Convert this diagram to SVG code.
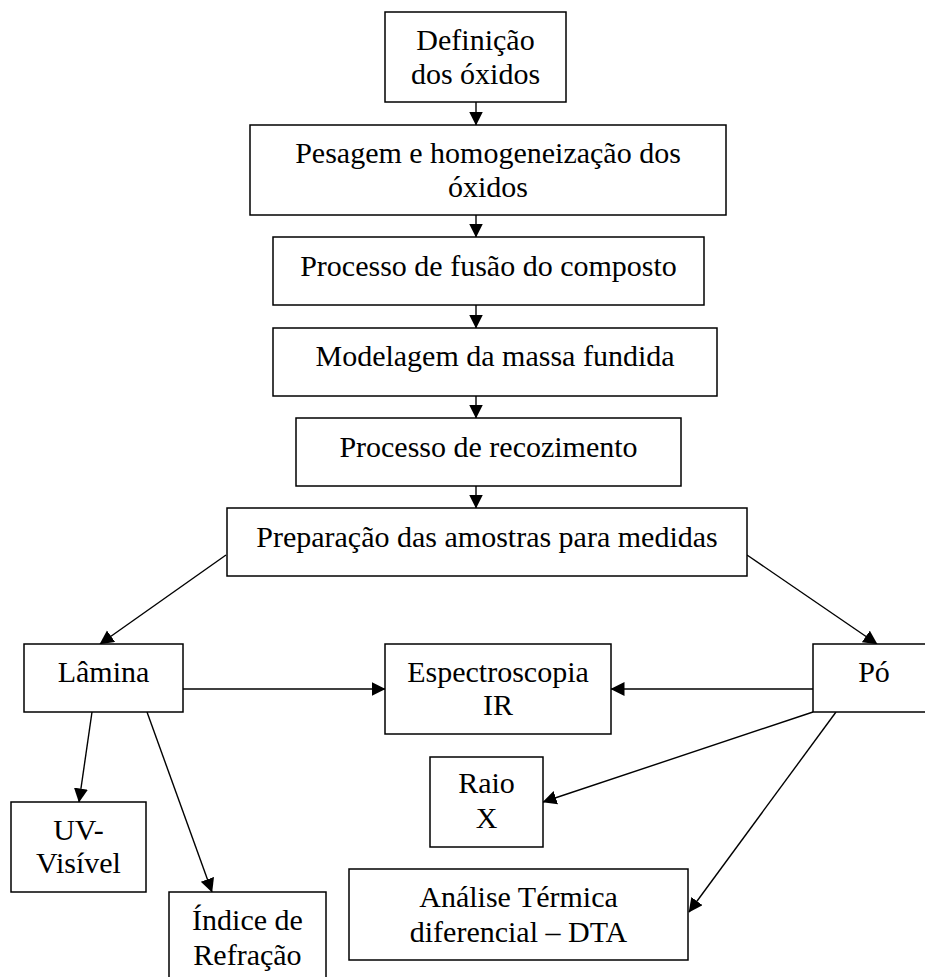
<svg xmlns="http://www.w3.org/2000/svg" width="925" height="977" viewBox="0 0 925 977">
<style>
.box{fill:#fff;stroke:#000;stroke-width:1.5}
.t{font-family:"Liberation Serif","Times New Roman",serif;font-size:30px;fill:#000;text-anchor:middle}
.c{stroke:#000;stroke-width:1.4;fill:none;marker-end:url(#ah)}
</style>
<defs>
<marker id="ah" markerUnits="userSpaceOnUse" markerWidth="15" markerHeight="15" refX="13.5" refY="7" orient="auto">
<path d="M0,0 L14,7 L0,14 z" fill="#000"/>
</marker>
</defs>
<rect width="925" height="977" fill="#fff"/>
<g id="connectors">
<line class="c" x1="476" y1="102" x2="476" y2="125"/>
<line class="c" x1="476" y1="215" x2="476" y2="237"/>
<line class="c" x1="476" y1="305" x2="476" y2="328"/>
<line class="c" x1="476" y1="396" x2="476" y2="418"/>
<line class="c" x1="476" y1="486" x2="476" y2="508"/>
<line class="c" x1="226" y1="555" x2="100" y2="644"/>
<line class="c" x1="747" y1="555" x2="877" y2="644"/>
<line class="c" x1="183" y1="689" x2="385" y2="689"/>
<line class="c" x1="813" y1="689" x2="611" y2="689"/>
<line class="c" x1="92" y1="712" x2="79" y2="802"/>
<line class="c" x1="147" y1="712" x2="212" y2="892"/>
<line class="c" x1="813" y1="712" x2="543" y2="802"/>
<line class="c" x1="836" y1="712" x2="689" y2="912"/>
</g>
<g id="definicao">
<rect class="box" x="385" y="12" width="181" height="90"/>
<text class="t" x="475.5" y="50">Definição</text>
<text class="t" x="475.5" y="84">dos óxidos</text>
</g>
<g id="pesagem">
<rect class="box" x="250" y="125" width="476" height="90"/>
<text class="t" x="488" y="163">Pesagem e homogeneização dos</text>
<text class="t" x="488" y="197">óxidos</text>
</g>
<g id="fusao">
<rect class="box" x="273" y="237" width="431" height="68"/>
<text class="t" x="488.5" y="276">Processo de fusão do composto</text>
</g>
<g id="modelagem">
<rect class="box" x="273" y="328" width="444" height="68"/>
<text class="t" x="495" y="366">Modelagem da massa fundida</text>
</g>
<g id="recozimento">
<rect class="box" x="296" y="418" width="385" height="68"/>
<text class="t" x="488.5" y="457">Processo de recozimento</text>
</g>
<g id="preparacao">
<rect class="box" x="227" y="508" width="520" height="68"/>
<text class="t" x="487" y="547">Preparação das amostras para medidas</text>
</g>
<g id="lamina">
<rect class="box" x="24" y="644" width="159" height="68"/>
<text class="t" x="103.5" y="682">Lâmina</text>
</g>
<g id="espectroscopia">
<rect class="box" x="385" y="644" width="226" height="90"/>
<text class="t" x="498" y="682">Espectroscopia</text>
<text class="t" x="498" y="715">IR</text>
</g>
<g id="po">
<rect class="box" x="813" y="644" width="122" height="68"/>
<text class="t" x="874" y="682">Pó</text>
</g>
<g id="uv">
<rect class="box" x="11" y="802" width="135" height="90"/>
<text class="t" x="78.5" y="840">UV-</text>
<text class="t" x="78.5" y="873">Visível</text>
</g>
<g id="indice">
<rect class="box" x="169" y="892" width="157" height="95"/>
<text class="t" x="247.5" y="930">Índice de</text>
<text class="t" x="247.5" y="965">Refração</text>
</g>
<g id="raiox">
<rect class="box" x="430" y="757" width="113" height="90"/>
<text class="t" x="486.5" y="793">Raio</text>
<text class="t" x="486.5" y="828">X</text>
</g>
<g id="analise">
<rect class="box" x="349" y="869" width="339" height="91"/>
<text class="t" x="518.5" y="907">Análise Térmica</text>
<text class="t" x="518.5" y="942">diferencial – DTA</text>
</g>
</svg>
